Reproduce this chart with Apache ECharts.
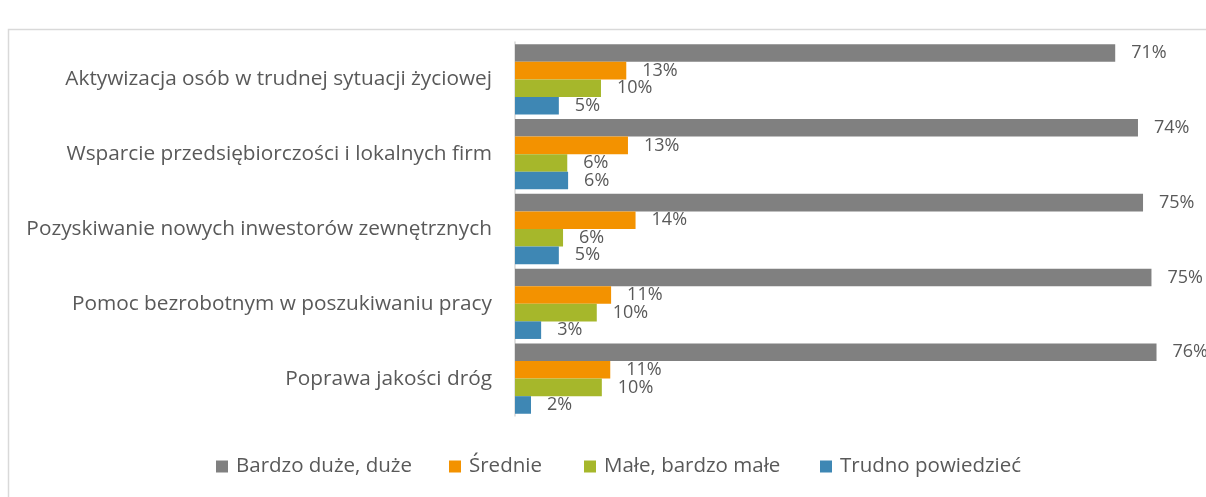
<!DOCTYPE html>
<html>
<head>
<meta charset="utf-8">
<script src="https://cdn.jsdelivr.net/npm/echarts@6/dist/echarts.min.js"></script>
<style>
  html, body { margin: 0; padding: 0; background: #fff; }
  #chart { width: 1206px; height: 497px; }
</style>
</head>
<body>
<div id="chart"></div>
<script>
const categories = [
  "Aktywizacja osób w trudnej sytuacji życiowej",
  "Wsparcie przedsiębiorczości i lokalnych firm",
  "Pozyskiwanie nowych inwestorów zewnętrznych",
  "Pomoc bezrobotnym w poszukiwaniu pracy",
  "Poprawa jakości dróg"
];
const seriesNames = ["Bardzo duże, duże", "Średnie", "Małe, bardzo małe", "Trudno powiedzieć"];

// bar lengths (%)
const bardzoDuze = [71.2, 73.9, 74.5, 75.5, 76.1];
const srednie = [13.2, 13.4, 14.3, 11.4, 11.3];
const male = [10.2, 6.2, 5.7, 9.7, 10.3];
const trudno = [5.2, 6.3, 5.2, 3.1, 1.9];

// labels as printed
const bardzoDuzeLbl = [71, 74, 75, 75, 76];
const srednieLbl = [13, 13, 14, 11, 11];
const maleLbl = [10, 6, 6, 10, 10];
const trudnoLbl = [5, 6, 5, 3, 2];

const colors = ["#808080", "#f39200", "#a6b72b", "#3e87b4"];
const font = "'Open Sans', 'DejaVu Sans', sans-serif";
// x of each legend square (excel spaces them on its own grid)
const legendX = [216, 449, 584, 820];

const chart = echarts.init(document.getElementById("chart"));

function makeSeries(name, data, lbl, color) {
  return {
    name: name,
    type: "bar",
    data: data,
    barGap: "0%",
    barCategoryGap: "6%",
    itemStyle: { color: color },
    label: {
      show: true,
      position: "right",
      distance: 16,
      color: "#595959",
      fontSize: 18,
      fontFamily: font,
      formatter: (p) => lbl[p.dataIndex] + "%"
    }
  };
}

const option = {
  backgroundColor: "#fff",
  animation: false,
  grid: { left: 515, right: 16.6, top: 42, bottom: 81 },
  xAxis: {
    type: "value",
    min: 0,
    max: 80,
    show: false
  },
  yAxis: {
    type: "category",
    data: categories,
    inverse: true,
    axisTick: { show: false },
    axisLine: { lineStyle: { color: "#d9d9d9", width: 1.5 } },
    axisLabel: { color: "#595959", fontSize: 20.8, fontFamily: font, margin: 23 }
  },
  legend: seriesNames.map((name, i) => ({
    data: [name],
    left: legendX[i] - 5,
    top: 451,
    itemWidth: 12,
    itemHeight: 12,
    itemGap: 0,
    icon: "rect",
    textStyle: { color: "#595959", fontSize: 20.5, fontFamily: font, padding: [0, 0, 0, 3] }
  })),
  graphic: [{
    type: "rect",
    shape: { x: 8.5, y: 29.5, width: 1300, height: 600 },
    style: { fill: "none", stroke: "#d9d9d9", lineWidth: 1.5 },
    silent: true
  }],
  series: [
    makeSeries(seriesNames[0], bardzoDuze, bardzoDuzeLbl, colors[0]),
    makeSeries(seriesNames[1], srednie, srednieLbl, colors[1]),
    makeSeries(seriesNames[2], male, maleLbl, colors[2]),
    makeSeries(seriesNames[3], trudno, trudnoLbl, colors[3])
  ]
};
chart.setOption(option);
</script>
</body>
</html>
